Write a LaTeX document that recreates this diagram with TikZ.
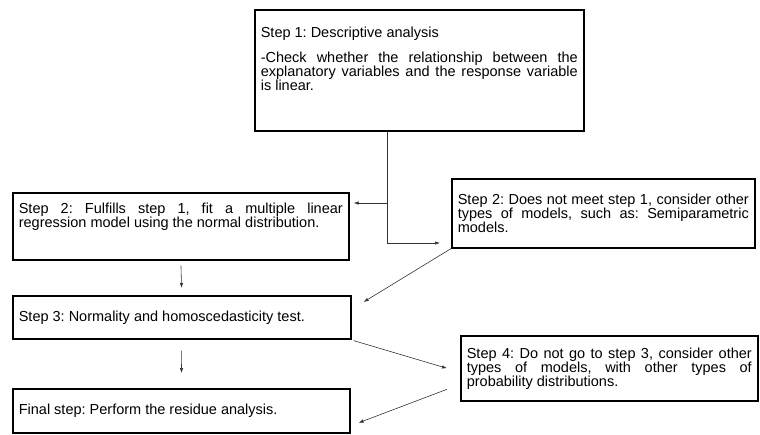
\documentclass[tikz,border=0pt]{standalone}
\usepackage{fontspec}
\setmainfont{Liberation Sans}
\usetikzlibrary{arrows.meta}
\tolerance=10000
\hbadness=10000
\vbadness=10000
\hyphenpenalty=10000

\tikzset{
	stepbox/.style={draw, line width=1.6pt, anchor=north west, align=justify, inner xsep=6pt, inner ysep=3pt, font=\fontsize{14.5}{14}\selectfont\frenchspacing},
	flow/.style={-{Latex[length=5pt,width=3.5pt]}, line width=0.6pt, draw=black!80}
}

\begin{document}
\begin{tikzpicture}[x=1pt, y=-1pt]
	\useasboundingbox (0,0) rectangle (760,434);
	
	\node[stepbox, inner ysep=17pt] (s1) at (254,9) {\parbox[t][87pt][t]{317pt}{Step 1: Descriptive analysis\par\vspace{11pt}-Check whether the relationship between the\linebreak explanatory variables and the response variable\linebreak is linear.}};
	\node[stepbox, inner ysep=10pt] (s2a) at (12,192) {\parbox[t][47pt][t]{324pt}{Step 2: Fulfills step 1, fit a multiple linear\linebreak regression model using the normal distribution.}};
	\node[stepbox, text width=291pt, minimum height=69pt] (s2b) at (451,178) {Step 2: Does not meet step 1, consider other\linebreak types of models, such as: Semiparametric\linebreak models.};
	\node[stepbox, text width=326pt, minimum height=43pt] (s3) at (12,295) {Step 3: Normality and homoscedasticity test.};
	\node[stepbox, text width=285pt, minimum height=65pt] (s4) at (460,335) {Step 4: Do not go to step 3, consider other\linebreak types of models, with other types of\linebreak probability distributions.};
	\node[stepbox, text width=325pt, minimum height=44pt] (fin) at (12,388) {Final step: Perform the residue analysis.};
	
	\coordinate (split) at (387,203);
	\coordinate (bend) at (387,243);
	
	\draw[flow, shorten >=11pt] (s1.south -| split) -- (bend) -- (bend -| s2b.west);
	\draw[flow, shorten >=4pt] (split) -- (split -| s2a.east);
	\draw[flow, shorten <=5pt, shorten >=7pt] (s2a.south) -- (s3.north);
	\draw[flow, shorten <=11pt, shorten >=15pt] (s3.south) -- (fin.north);
	\draw[flow] (s2b.south west) -- ([shift={(12pt,-7pt)}]s3.north east);
	\draw[flow] ([shift={(2pt,-1pt)}]s3.south east) -- ([shift={(-13pt,0pt)}]s4.west);
	\draw[flow] ([shift={(-13pt,-21pt)}]s4.west) -- ([shift={(8pt,-12pt)}]fin.east);
\end{tikzpicture}
\end{document}
